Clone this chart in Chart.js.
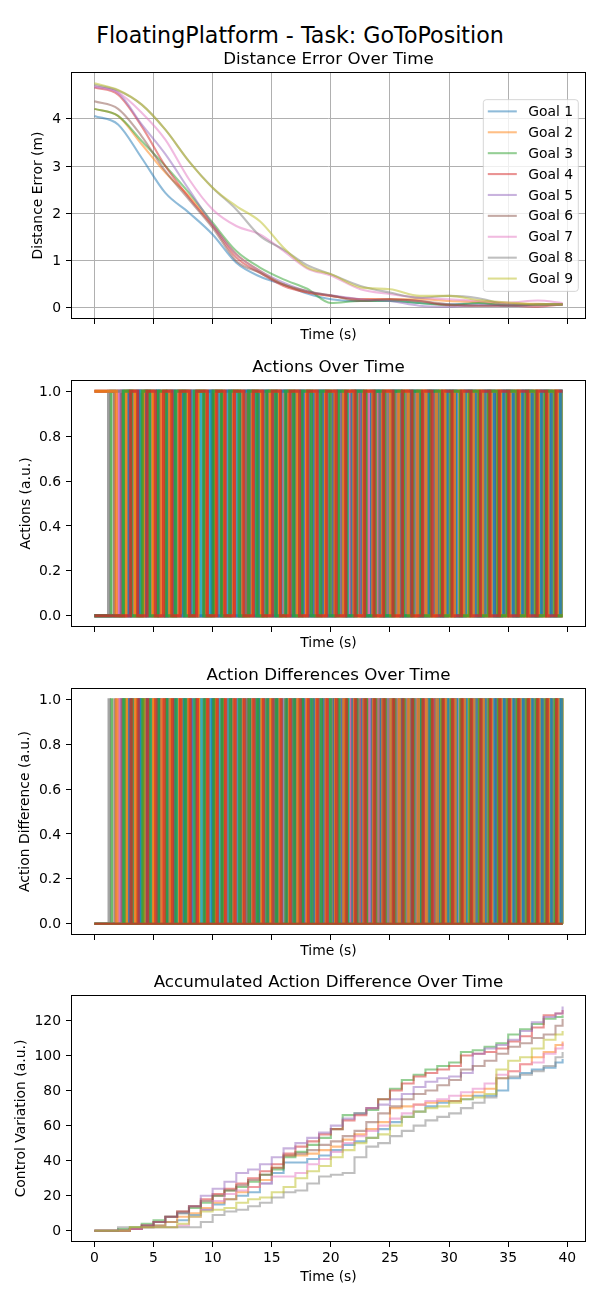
<!DOCTYPE html>
<html>
<head>
<meta charset="utf-8">
<script src="https://cdn.jsdelivr.net/npm/chart.js@4.4.1/dist/chart.umd.min.js"></script>
<style>
  body { margin: 0; background: #fff; width: 600px; height: 1300px; position: relative; overflow: hidden; font-family: 'DejaVu Sans', sans-serif; }
  #suptitle { position: absolute; left: 0; top: 22px; width: 600px; text-align: center; font-size: 22.2px; line-height: 26px; color: #000; }
  canvas { position: absolute; left: 0; }
</style>
</head>
<body>
<div id="suptitle">FloatingPlatform - Task: GoToPosition</div>
<canvas id="distChart" width="600" height="296" style="top:48px"></canvas>
<canvas id="actChart" width="600" height="296" style="top:356px"></canvas>
<canvas id="diffChart" width="600" height="296" style="top:664px"></canvas>
<canvas id="accChart" width="600" height="315" style="top:971px"></canvas>
<script>
// colores de matplotlib (tab10)
const tab10 = ['#1f77b4', '#ff7f0e', '#2ca02c', '#d62728', '#9467bd', '#8c564b', '#e377c2', '#7f7f7f', '#bcbd22', '#17becf'];
const goalLabels = ['Goal 1', 'Goal 2', 'Goal 3', 'Goal 4', 'Goal 5', 'Goal 6', 'Goal 7', 'Goal 8', 'Goal 9'];

// eje de tiempo comun
const xTicks = [0, 5, 10, 15, 20, 25, 30, 35, 40];
const xMin = -1.98, xMax = 41.58;

// --- error de distancia ---
const distTime = [0, 2, 4, 6, 8, 10, 12, 14, 16, 18, 20, 22.5, 25, 27.5, 30, 32.5, 35, 37.5, 39.6];
const distGoal1 = [4.06, 3.88, 3.17, 2.43, 2.01, 1.55, 0.95, 0.66, 0.49, 0.30, 0.18, 0.14, 0.14, 0.10, 0.07, 0.09, 0.05, 0.06, 0.07];
const distGoal2 = [4.21, 4.06, 3.46, 2.86, 2.36, 1.76, 1.13, 0.78, 0.49, 0.33, 0.25, 0.18, 0.18, 0.18, 0.14, 0.12, 0.09, 0.08, 0.07];
const distGoal3 = [4.21, 4.06, 3.53, 3.00, 2.43, 1.80, 1.20, 0.85, 0.60, 0.40, 0.10, 0.14, 0.14, 0.10, 0.05, 0.10, 0.04, 0.06, 0.07];
const distGoal4 = [4.66, 4.51, 3.84, 3.00, 2.33, 1.73, 1.06, 0.74, 0.46, 0.32, 0.25, 0.18, 0.18, 0.14, 0.05, 0.04, 0.04, 0.02, 0.07];
const distGoal5 = [4.68, 4.55, 3.88, 3.25, 2.50, 1.76, 1.13, 0.78, 0.53, 0.35, 0.26, 0.18, 0.14, 0.04, 0.02, 0.05, 0.04, 0.05, 0.07];
const distGoal6 = [4.37, 4.21, 3.63, 2.89, 2.29, 1.69, 0.99, 0.74, 0.49, 0.35, 0.26, 0.14, 0.18, 0.14, 0.07, 0.04, 0.05, 0.06, 0.07];
const distGoal7 = [4.69, 4.56, 4.13, 3.56, 2.72, 2.08, 1.73, 1.55, 1.20, 0.83, 0.68, 0.39, 0.29, 0.21, 0.18, 0.14, 0.11, 0.15, 0.10];
const distGoal8 = [4.72, 4.60, 4.30, 3.77, 3.10, 2.54, 2.08, 1.52, 1.23, 0.90, 0.71, 0.46, 0.32, 0.21, 0.25, 0.20, 0.07, 0.07, 0.07];
const distGoal9 = [4.75, 4.61, 4.30, 3.77, 3.10, 2.54, 2.15, 1.83, 1.27, 0.85, 0.71, 0.43, 0.39, 0.25, 0.25, 0.16, 0.11, 0.07, 0.07];
const distError = [distGoal1, distGoal2, distGoal3, distGoal4, distGoal5, distGoal6, distGoal7, distGoal8, distGoal9];
const distTicks = [0, 1, 2, 3, 4];

// --- acciones: estado inicial y tiempos (s) en que cada propulsor cambia ---
const sampleDt = 0.1;
const endTime = 39.6;
const actionStart = [0, 0, 0, 1, 0, 1, 0, 0, 0, 0, 0, 1, 0, 0];
const switchBlue   = [2.3, 3.1, 3.6, 4.5, 5.2, 5.5, 6.4, 7.3, 7.9, 8.6, 9.8, 10.3, 11.1, 11.5, 12.6, 13.4, 14.0, 14.9, 15.3, 16.4, 17.2, 17.7, 18.8, 19.5, 20.1, 21.2, 21.6, 22.7, 23.3, 24.2, 24.8, 25.9, 26.5, 27.0, 28.1, 28.9, 29.4, 30.6, 31.2, 31.9, 32.8, 33.3, 34.5, 35.1, 35.8, 36.9, 37.4, 38.3, 39.0];
const switchOrange = [2.8, 3.3, 4.1, 4.9, 5.7, 6.1, 6.9, 7.6, 8.3, 9.1, 9.6, 10.7, 11.3, 12.1, 12.9, 13.7, 14.4, 15.0, 15.8, 16.7, 17.4, 18.2, 19.0, 19.8, 20.5, 21.0, 21.9, 22.4, 23.6, 24.1, 25.0, 25.6, 26.3, 27.3, 27.9, 28.6, 29.7, 30.2, 31.0, 31.7, 32.5, 33.6, 34.2, 34.9, 35.6, 36.4, 37.1, 37.9, 38.7, 39.3];
const switchGreen  = [1.4, 2.7, 3.4, 3.9, 4.7, 5.4, 6.2, 6.7, 7.5, 8.1, 8.9, 9.4, 10.1, 10.9, 11.7, 12.3, 13.1, 13.9, 14.6, 15.5, 16.1, 16.9, 17.6, 18.4, 19.2, 19.9, 20.7, 21.4, 22.1, 22.9, 23.8, 24.4, 25.3, 26.0, 26.8, 27.5, 28.3, 29.1, 29.8, 30.5, 31.4, 32.1, 32.9, 33.8, 34.4, 35.3, 36.0, 36.7, 37.6, 38.4, 39.2];
const switchRed    = [2.2, 3.0, 3.8, 4.3, 5.0, 5.9, 6.6, 7.1, 7.8, 8.7, 9.3, 10.0, 10.6, 11.4, 12.0, 12.8, 13.5, 14.2, 15.1, 15.7, 16.3, 17.0, 17.9, 18.6, 19.3, 20.3, 20.9, 21.7, 22.5, 23.1, 24.0, 24.6, 25.4, 26.1, 26.9, 27.7, 28.4, 29.2, 30.0, 30.8, 31.5, 32.3, 33.0, 33.9, 34.6, 35.4, 36.2, 36.8, 37.7, 38.5, 39.4];
const switchPurple = [2.1, 2.9, 3.5, 4.2, 4.8, 5.6, 6.3, 7.0, 7.7, 8.4, 9.0, 9.7, 10.4, 11.2, 11.9, 12.5, 13.3, 14.1, 14.7, 15.4, 16.2, 16.8, 17.5, 18.3, 19.1, 19.7, 20.4, 21.1, 21.8, 22.6, 23.4, 24.3, 24.9, 25.7, 26.4, 27.2, 28.0, 28.7, 29.5, 30.3, 30.9, 31.8, 32.6, 33.4, 34.1, 34.8, 35.7, 36.5, 37.3, 38.1, 38.9];
const switchBrown  = [1.7, 2.5, 3.2, 4.0, 4.4, 5.3, 6.0, 6.5, 7.4, 8.0, 8.8, 9.5, 10.2, 10.8, 11.6, 12.2, 13.0, 13.6, 14.3, 15.2, 15.9, 16.6, 17.3, 18.1, 18.9, 19.6, 20.2, 21.3, 22.0, 22.8, 23.5, 24.5, 25.1, 25.8, 26.6, 27.4, 28.2, 28.8, 29.6, 30.4, 31.1, 31.6, 32.4, 33.2, 34.0, 34.7, 35.5, 36.3, 37.0, 37.8, 38.6, 39.5];
const switchPink   = [2.0, 2.6, 3.3, 4.6, 5.1, 5.8, 6.8, 7.2, 8.2, 8.5, 9.2, 10.5, 11.0, 11.8, 12.4, 13.2, 14.5, 15.6, 16.0, 17.1, 17.8, 18.5, 19.4, 20.0, 20.8, 21.5, 22.2, 23.2, 23.9, 24.7, 25.5, 26.2, 27.1, 27.8, 28.5, 29.3, 30.1, 30.7, 31.3, 32.2, 33.1, 33.7, 34.3, 35.2, 35.9, 36.6, 37.5, 38.2, 39.1];
const switchGray   = [1.2, 2.4, 3.7, 4.4, 5.5, 6.0, 7.0, 7.8, 8.6, 9.2, 9.9, 10.6, 11.5, 12.3, 13.0, 13.8, 14.8, 15.4, 16.5, 17.2, 18.0, 18.7, 19.5, 20.4, 21.1, 21.8, 22.3, 23.0, 24.1, 24.8, 25.6, 26.4, 27.2, 27.9, 28.8, 29.5, 30.4, 31.2, 32.0, 32.7, 33.5, 34.4, 35.0, 35.8, 36.7, 37.4, 38.3, 39.2];
const switchOlive  = [2.6, 3.5, 4.2, 5.0, 5.9, 6.5, 7.3, 8.0, 8.8, 9.5, 10.3, 11.0, 11.8, 12.6, 13.4, 14.1, 14.9, 15.6, 16.4, 17.3, 18.0, 18.9, 19.7, 20.5, 21.2, 22.0, 22.9, 23.7, 24.5, 25.2, 26.1, 26.8, 27.6, 28.4, 29.2, 30.0, 30.9, 31.6, 32.4, 33.2, 34.1, 34.8, 35.6, 36.4, 37.2, 38.0, 38.8, 39.5];
const switchCyan   = [2.5, 3.0, 3.9, 4.7, 5.3, 6.2, 6.9, 7.6, 8.4, 9.0, 9.8, 10.5, 11.3, 12.1, 12.7, 13.6, 14.3, 15.1, 15.8, 16.6, 17.4, 18.2, 19.0, 19.8, 20.6, 21.4, 22.1, 22.8, 23.6, 24.4, 25.1, 25.9, 26.7, 27.5, 28.2, 29.0, 29.8, 30.6, 31.4, 32.1, 32.9, 33.7, 34.5, 35.3, 36.1, 36.9, 37.7, 38.5, 39.3];
const switchBlue2   = [2.95, 3.75, 4.35, 5.45, 6.15, 6.75, 7.55, 8.15, 9.35, 9.95, 10.85, 11.65, 12.45, 13.25, 13.85, 14.65, 15.45, 16.25, 16.95, 17.65, 18.55, 19.35, 20.25, 20.95, 21.85, 22.65, 23.45, 24.25, 25.15, 25.95, 26.75, 27.45, 28.25, 29.05, 29.85, 30.55, 31.35, 32.25, 33.05, 33.85, 34.65, 35.45, 36.25, 37.05, 37.85, 38.65, 39.45];
const switchOrange2 = [1.85, 2.65, 3.45, 4.15, 4.95, 5.65, 6.35, 7.15, 7.95, 8.75, 9.45, 10.25, 10.95, 11.75, 12.55, 13.35, 14.15, 14.85, 15.65, 16.45, 17.15, 17.95, 18.75, 19.55, 20.35, 21.05, 21.95, 22.75, 23.55, 24.35, 25.05, 25.75, 26.55, 27.35, 28.05, 28.95, 29.65, 30.45, 31.25, 32.05, 32.85, 33.55, 34.35, 35.15, 35.95, 36.75, 37.55, 38.35, 39.15];
const switchGreen2  = [2.45, 3.15, 4.05, 4.65, 5.35, 6.05, 6.85, 7.65, 8.45, 9.25, 10.05, 10.75, 11.45, 12.25, 13.05, 13.75, 14.55, 15.35, 16.15, 16.85, 17.55, 18.35, 19.15, 19.95, 20.65, 21.35, 22.15, 22.95, 23.75, 24.55, 25.35, 26.15, 26.95, 27.65, 28.45, 29.35, 30.15, 30.95, 31.75, 32.55, 33.35, 34.15, 34.95, 35.75, 36.55, 37.35, 38.15, 38.95];
const switchRed2    = [3.05, 3.65, 4.45, 5.15, 5.85, 6.55, 7.25, 8.05, 8.65, 9.55, 10.35, 11.05, 11.85, 12.65, 13.45, 14.25, 15.05, 15.75, 16.55, 17.35, 18.05, 18.85, 19.65, 20.45, 21.25, 22.05, 22.85, 23.65, 24.45, 25.25, 26.05, 26.85, 27.75, 28.55, 29.45, 30.25, 31.05, 31.85, 32.65, 33.45, 34.25, 35.05, 35.85, 36.65, 37.45, 38.25, 39.05];
const switchSeries = [switchBlue, switchOrange, switchGreen, switchRed, switchPurple, switchBrown, switchPink,
                      switchGray, switchOlive, switchCyan, switchBlue2, switchOrange2, switchGreen2, switchRed2];
const actionTicks = [0, 0.2, 0.4, 0.6, 0.8, 1.0];

// --- diferencia acumulada ---
const accTime = [0, 1, 2, 3, 4, 5, 6, 7, 8, 9, 10, 11, 12, 13, 14, 15, 16, 17, 18, 19, 20,
                 21, 22, 23, 24, 25, 26, 27, 28, 29, 30, 31, 32, 33, 34, 35, 36, 37, 38, 39, 39.6];
const accGoal1 = [0, 0, 0, 1, 2, 3, 5, 6, 9, 12, 15, 18, 20, 22, 27, 33, 39, 39, 41, 43, 46,
                  49, 51, 53, 58, 62, 65, 68, 71, 73, 74, 75, 77, 77, 80, 87, 90, 92, 93, 96, 98];
const accGoal2 = [0, 0, 0, 1, 2, 3, 5, 8, 10, 13, 16, 18, 22, 25, 29, 36, 43, 43, 44, 46, 48,
                  52, 55, 58, 62, 70, 71, 72, 73, 74, 74, 77, 79, 81, 87, 91, 95, 99, 102, 106, 108];
const accGoal3 = [0, 0, 1, 2, 4, 6, 8, 10, 13, 16, 20, 23, 25, 28, 32, 35, 42, 45, 49, 53, 58,
                  66, 67, 69, 75, 81, 86, 89, 92, 94, 96, 102, 103, 105, 107, 112, 115, 118, 121, 122, 123];
const accGoal4 = [0, 0, 0, 1, 3, 5, 8, 11, 14, 18, 21, 24, 27, 30, 34, 38, 44, 48, 51, 55, 58,
                  63, 66, 70, 75, 80, 84, 88, 90, 92, 94, 100, 101, 102, 104, 108, 111, 116, 123, 124, 126];
const accGoal5 = [0, 0, 0, 1, 3, 5, 8, 10, 14, 20, 24, 28, 33, 35, 38, 42, 47, 50, 53, 56, 60,
                  64, 67, 70, 72, 75, 78, 82, 85, 87, 88, 90, 101, 104, 106, 109, 114, 119, 122, 124, 128];
const accGoal6 = [0, 0, 0, 1, 3, 5, 8, 11, 14, 17, 20, 23, 26, 29, 32, 36, 43, 44, 46, 49, 51,
                  54, 57, 62, 67, 71, 75, 78, 80, 83, 86, 92, 94, 97, 101, 105, 107, 110, 112, 117, 121];
const accGoal7 = [0, 0, 0, 1, 2, 2, 2, 3, 8, 12, 17, 21, 23, 25, 27, 31, 31, 33, 38, 41, 45,
                  50, 54, 57, 60, 64, 67, 72, 74, 75, 77, 79, 81, 84, 89, 91, 95, 96, 101, 104, 107];
const accGoal8 = [0, 0, 2, 2, 2, 2, 2, 2, 2, 5, 9, 11, 12, 14, 16, 19, 22, 23, 27, 31, 32,
                  33, 42, 48, 50, 54, 57, 60, 63, 65, 67, 70, 73, 76, 87, 88, 89, 91, 94, 99, 102];
const accGoal9 = [0, 0, 0, 2, 2, 2, 2, 4, 8, 11, 12, 13, 16, 18, 19, 22, 25, 30, 34, 37, 42,
                  46, 50, 53, 55, 60, 65, 68, 70, 71, 73, 75, 76, 78, 92, 97, 99, 104, 109, 112, 114];
const accDiff = [accGoal1, accGoal2, accGoal3, accGoal4, accGoal5, accGoal6, accGoal7, accGoal8, accGoal9];
const accTicks = [0, 20, 40, 60, 80, 100, 120];

Chart.defaults.font.family = "'DejaVu Sans', sans-serif";
Chart.defaults.color = '#000';

const anchoLinea = 2.08; // 1.5 pt a 100 dpi

// color hex -> rgba con transparencia
function rgba(hex, a) {
    const n = parseInt(hex.slice(1), 16);
    return `rgba(${n >> 16},${(n >> 8) & 255},${n & 255},${a})`;
}

// estado 0/1 de un propulsor a partir de sus cambios
function puntosAccion(inicio, cambios) {
    let v = inicio;
    const pts = [{ x: 0, y: v }];
    cambios.forEach(t => { v = 1 - v; pts.push({ x: t, y: v }); });
    pts.push({ x: endTime, y: v });
    return pts;
}

// diferencia = 1 solo en la muestra del cambio
function puntosDiferencia(cambios) {
    const pts = [{ x: 0, y: 0 }];
    cambios.forEach(t => { pts.push({ x: t, y: 1 }, { x: t + sampleDt, y: 0 }); });
    pts.push({ x: endTime, y: 0 });
    return pts;
}

// marco negro alrededor del area (como los spines de matplotlib)
const marco = {
    id: 'marco',
    afterDatasetsDraw(chart) {
        const { ctx, chartArea: a } = chart;
        ctx.save();
        ctx.strokeStyle = '#000';
        ctx.lineWidth = 1;
        ctx.strokeRect(Math.round(a.left) + 0.5, Math.round(a.top) + 0.5,
            Math.round(a.right - a.left) - 1, Math.round(a.bottom - a.top) - 1);
        ctx.restore();
    }
};

// leyenda dentro del grafico, centro derecha
const leyenda = {
    id: 'leyenda',
    afterDraw(chart) {
        const { ctx, chartArea: a } = chart;
        const w = 95, h = 191.7, fila = 20.9;
        const x0 = a.right - 7.7 - w;
        const y0 = (a.top + a.bottom) / 2 - h / 2;
        ctx.save();
        ctx.beginPath();
        ctx.roundRect(x0, y0, w, h, 3);
        ctx.fillStyle = 'rgba(255,255,255,0.8)';
        ctx.fill();
        ctx.strokeStyle = 'rgba(204,204,204,0.8)';
        ctx.lineWidth = 1;
        ctx.stroke();
        ctx.font = "13.9px 'DejaVu Sans'";
        ctx.textBaseline = 'middle';
        chart.data.datasets.forEach((ds, i) => {
            const y = y0 + 11.7 + fila * i;
            ctx.strokeStyle = ds.borderColor;
            ctx.lineWidth = ds.borderWidth;
            ctx.beginPath();
            ctx.moveTo(x0 + 4.5, y);
            ctx.lineTo(x0 + 33.5, y);
            ctx.stroke();
            ctx.fillStyle = '#000';
            ctx.fillText(ds.label, x0 + 45, y + 1);
        });
        ctx.restore();
    }
};

function ejeX(etiquetas, alto, rejilla) {
    return {
        type: 'linear', min: xMin, max: xMax,
        afterBuildTicks: s => { s.ticks = xTicks.map(v => ({ value: v })); },
        afterFit: s => { s.height = alto; },
        ticks: { display: etiquetas, padding: 3, font: { size: 13.9 }, maxRotation: 0, autoSkip: false },
        grid: { display: true, drawOnChartArea: rejilla, color: '#b0b0b0', tickColor: '#000', tickLength: 5, lineWidth: 1 },
        border: { display: false },
        title: { display: true, text: 'Time (s)', font: { size: 13.9 }, padding: { top: 0, bottom: 0 } }
    };
}

function ejeY(min, max, valores, texto, padTitulo, formato, rejilla) {
    return {
        type: 'linear', min: min, max: max,
        afterBuildTicks: s => { s.ticks = valores.map(v => ({ value: v })); },
        afterFit: s => { s.width = 71; },
        ticks: { padding: 5, labelOffset: 1, font: { size: 13.9 }, autoSkip: false, callback: formato },
        grid: { display: true, drawOnChartArea: rejilla, color: '#b0b0b0', tickColor: '#000', tickLength: 5, lineWidth: 1 },
        border: { display: false },
        title: { display: true, text: texto, font: { size: 13.9 }, padding: { top: padTitulo, bottom: 0 } }
    };
}

function opciones(titulo, escalas) {
    return {
        responsive: false,
        animation: false,
        devicePixelRatio: 1,
        layout: { padding: { left: 0, right: 14, top: 0, bottom: 0 } },
        elements: { point: { radius: 0 } },
        plugins: {
            legend: { display: false },
            tooltip: { enabled: false },
            title: {
                display: true, text: titulo, fullSize: false,
                font: { size: 16.7, weight: 'normal', lineHeight: 1.2 },
                padding: { top: 2, bottom: 2 }
            }
        },
        scales: escalas
    };
}

// grafica 1: error de distancia
new Chart(document.getElementById('distChart'), {
    type: 'line',
    data: {
        datasets: distError.map((serie, i) => ({
            label: goalLabels[i],
            data: serie.map((y, k) => ({ x: distTime[k], y: y })),
            borderColor: rgba(tab10[i], 0.5),
            borderWidth: anchoLinea,
            cubicInterpolationMode: 'monotone',
            clip: 0,
            order: distError.length - i
        }))
    },
    options: opciones('Distance Error Over Time', {
        x: ejeX(false, 25, true),
        y: ejeY(-0.24, 4.99, distTicks, 'Distance Error (m)', 30, v => String(v), true)
    }),
    plugins: [marco, leyenda]
});

// grafica 2: acciones
new Chart(document.getElementById('actChart'), {
    type: 'line',
    data: {
        datasets: switchSeries.map((s, i) => ({
            data: puntosAccion(actionStart[i], s),
            borderColor: rgba(tab10[i % 10], 0.75),
            borderWidth: 3.2,
            stepped: true,
            clip: 0,
            order: switchSeries.length - i
        }))
    },
    options: opciones('Actions Over Time', {
        x: ejeX(false, 25, false),
        y: ejeY(-0.05, 1.05, actionTicks, 'Actions (a.u.)', 17.7, v => v.toFixed(1), false)
    }),
    plugins: [marco]
});

// grafica 3: diferencias de accion
new Chart(document.getElementById('diffChart'), {
    type: 'line',
    data: {
        datasets: switchSeries.map((s, i) => ({
            data: puntosDiferencia(s),
            borderColor: rgba(tab10[i % 10], 0.7),
            borderWidth: 2.2,
            stepped: true,
            clip: 0,
            order: switchSeries.length - i
        }))
    },
    options: opciones('Action Differences Over Time', {
        x: ejeX(false, 25, false),
        y: ejeY(-0.05, 1.05, actionTicks, 'Action Difference (a.u.)', 17.4, v => v.toFixed(1), false)
    }),
    plugins: [marco]
});

// grafica 4: diferencia acumulada
new Chart(document.getElementById('accChart'), {
    type: 'line',
    data: {
        datasets: accDiff.map((serie, i) => ({
            label: goalLabels[i],
            data: serie.map((y, k) => ({ x: accTime[k], y: y })),
            borderColor: rgba(tab10[i], 0.5),
            borderWidth: anchoLinea,
            stepped: true,
            clip: 0,
            order: accDiff.length - i
        }))
    },
    options: opciones('Accumulated Action Difference Over Time', {
        x: ejeX(true, 44, false),
        y: ejeY(-6.4, 134.5, accTicks, 'Control Variation (a.u.)', 12.7, v => String(v), false)
    }),
    plugins: [marco]
});
</script>
</body>
</html>
